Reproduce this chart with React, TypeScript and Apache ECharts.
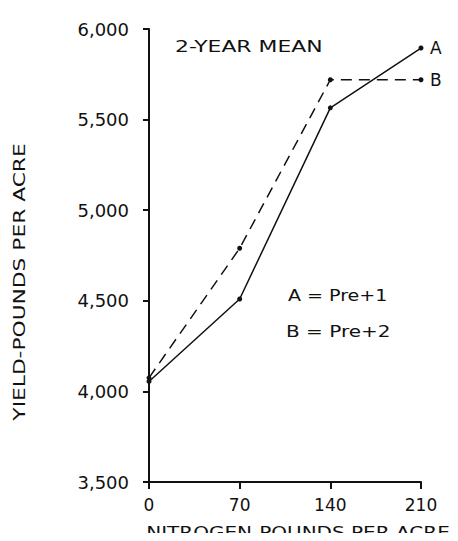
import React, { useEffect, useRef } from "react";
import * as echarts from "echarts";

const nitrogen = [0, 70, 140, 210];
const seriesA = [4055, 4510, 5565, 5895];
const seriesB = [4075, 4790, 5720, 5720];
const seriesNames = ["A", "B"];
const xTicks = [0, 70, 140, 210];
const yTicks = [3500, 4000, 4500, 5000, 5500, 6000];
const xTitle = "NITROGEN-POUNDS PER ACRE";
const yTitle = "YIELD-POUNDS PER ACRE";
const noteText = "2-YEAR MEAN";
const keyA = "A = Pre+1";
const keyB = "B = Pre+2";

const FONT = "DejaVu Sans";
const INK = "#111";

export default function App() {
  const ref = useRef<HTMLDivElement>(null);
  useEffect(() => {
    if (!ref.current) return;
    const chart = echarts.init(ref.current, undefined, { renderer: "svg" });
    const mk = (vals: number[]) => vals.map((v, i) => [nitrogen[i], v]);
    const font = `16px "${FONT}"`;
    chart.setOption({
      animation: false,
      backgroundColor: "#fff",
      grid: { left: 149, right: 37, top: 29, bottom: 59 },
      xAxis: {
        type: "value",
        min: xTicks[0],
        max: xTicks[xTicks.length - 1],
        interval: 70,
        axisLine: { show: true, onZero: false, lineStyle: { color: INK, width: 2 } },
        axisTick: { show: true, length: 7, inside: false, lineStyle: { color: INK, width: 2 } },
        axisLabel: { color: INK, fontFamily: FONT, fontSize: 17, margin: 14 },
        splitLine: { show: false },
      },
      yAxis: {
        type: "value",
        min: yTicks[0],
        max: yTicks[yTicks.length - 1],
        interval: 500,
        axisLine: { show: true, onZero: false, lineStyle: { color: INK, width: 2 } },
        axisTick: { show: true, length: 6, inside: false, lineStyle: { color: INK, width: 2 } },
        axisLabel: {
          color: INK,
          fontFamily: FONT,
          fontSize: 18,
          margin: 20,
          formatter: (v: number) => v.toLocaleString("en-US"),
        },
        splitLine: { show: false },
      },
      series: [
        {
          name: seriesNames[0],
          type: "line",
          data: mk(seriesA),
          symbol: "circle",
          symbolSize: 5,
          itemStyle: { color: INK },
          lineStyle: { color: INK, width: 1.5 },
          endLabel: {
            show: true,
            formatter: seriesNames[0],
            color: INK,
            fontFamily: FONT,
            fontSize: 17,
            distance: 9,
          },
        },
        {
          name: seriesNames[1],
          type: "line",
          data: mk(seriesB),
          symbol: "circle",
          symbolSize: 5,
          itemStyle: { color: INK },
          lineStyle: { color: INK, width: 1.5, type: [11, 7] },
          endLabel: {
            show: true,
            formatter: seriesNames[1],
            color: INK,
            fontFamily: FONT,
            fontSize: 17,
            distance: 9,
          },
        },
      ],
      graphic: [
        {
          type: "text",
          x: 298,
          y: 532,
          scaleX: 1.25,
          style: { text: xTitle, fill: INK, font, align: "center", verticalAlign: "middle" },
        },
        {
          type: "text",
          x: 20,
          y: 282,
          rotation: Math.PI / 2,
          scaleX: 1.36,
          style: { text: yTitle, fill: INK, font, align: "center", verticalAlign: "middle" },
        },
        {
          type: "text",
          x: 175,
          y: 47,
          scaleX: 1.46,
          style: { text: noteText, fill: INK, font: `15px "${FONT}"`, align: "left", verticalAlign: "middle" },
        },
        {
          type: "text",
          x: 288,
          y: 296,
          scaleX: 1.19,
          style: { text: keyA, fill: INK, font, align: "left", verticalAlign: "middle" },
        },
        {
          type: "text",
          x: 286,
          y: 331,
          scaleX: 1.25,
          style: { text: keyB, fill: INK, font, align: "left", verticalAlign: "middle" },
        },
      ],
    });
    return () => chart.dispose();
  }, []);
  return <div ref={ref} style={{ width: 458, height: 541, margin: -8 }} />;
}
